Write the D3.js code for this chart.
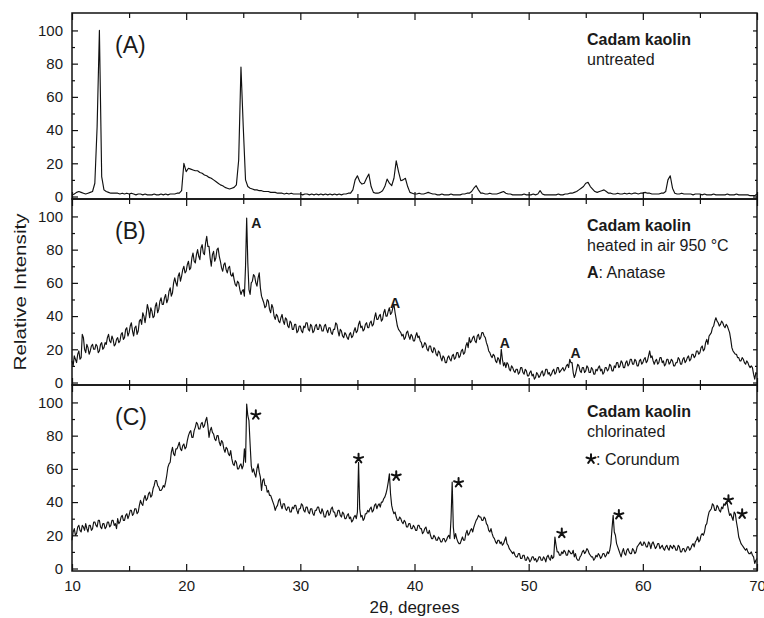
<!DOCTYPE html>
<html>
<head>
<meta charset="utf-8">
<script src="https://cdn.jsdelivr.net/npm/d3@7"></script>
<style>
  body { margin: 0; background: #fff; }
  svg { display: block; font-family: "Liberation Sans", Arial, sans-serif; }
</style>
</head>
<body>
<div id="vis"></div>
<script>
// Frame and margins
const FRAME_WIDTH = 764;
const FRAME_HEIGHT = 618;
const MARGINS = {left: 72, right: 7, top: 13, bottom: 47};
const PANEL_HEIGHT = 186;

// Scan grid (2-theta, degrees): every scan starts at 10 deg
const TWO_THETA_START = 10;
const SCAN_STEPS = [0.2, 0.1, 0.1];

// (A) untreated, one value per 0.2 deg (5 per degree), 10 -> 70
const UNTREATED = [
  1, 1.5, 2.5, 3, 2.5,   2, 1.5, 2, 2.5, 3,   8, 42, 100, 12, 4,   3, 2.5, 2, 2, 2,
  2, 1.5, 2, 1.5, 2,   1.5, 2, 1.5, 1, 1.5,   1.5, 1, 1.5, 1, 1,   1, 1.5, 1, 1, 1.5,
  1, 1.5, 1, 1.5, 1.5,   1.5, 2, 2, 3.5, 20,   15, 17, 16.5, 16, 15.5,   15.5, 14.5, 14, 13, 12.5,
  11.5, 11, 10, 9, 8,   7, 6.5, 5.5, 5, 4.5,   5, 5.5, 7, 22, 78,   42, 10, 6, 5, 4.5,
  4, 4, 3.5, 3.5, 3,   3, 3, 2.5, 2.5, 2.5,   2, 2, 2, 1.5, 2,   1.5, 2, 1.5, 1.5, 1.5,
  1.5, 1, 1.5, 1.5, 1,   1.5, 1, 1.5, 1, 1.5,   1, 1.5, 1, 1.5, 1,   1.5, 1, 1.5, 1, 1.5,
  1.5, 2, 2, 4, 10,   12.5, 9, 7.5, 8, 11,   13.5, 6, 2.5, 2, 2,   2.5, 3.5, 6, 10.5, 8,
  6.5, 11, 21.5, 15, 9.5,   10, 11, 6, 2.5, 2,   1.5, 1.5, 2, 1.5, 1.5,   2, 2.5, 2, 1.5, 1.5,
  1, 1, 1.5, 1, 1,   1, 1.5, 1, 1, 1,   1, 1.5, 1.5, 2, 2,   3, 5, 6.5, 4, 2,
  2, 1.5, 1.5, 2, 1.5,   1.5, 1.5, 2, 2.5, 3,   2, 1.5, 1.5, 1, 1,   1, 1, 1, 1.5, 1,
  1, 1, 1.5, 1, 1.5,   3.5, 1.5, 1, 1, 1,   1, 1, 1, 1.5, 1,   1, 1.5, 1.5, 2, 2,
  2.5, 3, 4, 5, 6,   8, 8.5, 6, 4.5, 3,   2.5, 3, 3.5, 4, 3,   2, 2, 1.5, 1.5, 2,
  1.5, 1.5, 2, 1.5, 2,   1.5, 2, 2, 1.5, 2,   2, 2.5, 2, 2, 1.5,   1.5, 1.5, 1.5, 2, 2,
  3, 10, 12.5, 5, 2,   1.5, 1.5, 2, 1.5, 1.5,   1.5, 1.5, 1, 1.5, 1.5,   1.5, 1, 1.5, 1, 1,
  1, 1.5, 1, 1, 1,   1, 1, 1.5, 1, 1,   1, 1.5, 1, 1, 1,   1, 1, 0.5, 0.5, 0.5,
  1.5
];

// (B) heated in air, one value per 0.1 deg (one row per degree), 10 -> 70
const HEATED = [
  13, 10, 16, 14, 12, 17, 19, 14, 15, 29,
  27, 20, 18, 23, 21, 17, 19, 22, 23, 20,
  20, 23, 22, 18, 19, 23, 24, 20, 21, 24,
  23, 27, 29, 25, 24, 28, 26, 22, 23, 26,
  27, 24, 25, 29, 30, 26, 27, 32, 33, 28,
  30, 34, 36, 31, 28, 33, 34, 29, 31, 37,
  38, 35, 42, 40, 36, 41, 47, 44, 39, 45,
  43, 39, 40, 46, 48, 42, 44, 49, 51, 47,
  47, 51, 53, 48, 50, 55, 57, 52, 54, 60,
  63, 60, 58, 64, 66, 61, 64, 68, 70, 66,
  67, 71, 73, 68, 69, 75, 78, 73, 72, 77,
  80, 76, 74, 81, 83, 78, 77, 84, 88, 82,
  82, 75, 70, 77, 79, 73, 75, 80, 81, 76,
  73, 69, 67, 71, 72, 68, 66, 69, 70, 65,
  64, 66, 62, 59, 58, 61, 60, 56, 53, 55,
  56, 52, 70, 99, 72, 56, 53, 60, 61, 65,
  64, 60, 58, 63, 66, 57, 52, 50, 48, 45,
  46, 50, 49, 44, 42, 47, 45, 40, 38, 41,
  40, 37, 36, 39, 41, 37, 35, 39, 38, 34,
  33, 37, 36, 32, 32, 35, 35, 30, 31, 34,
  34, 31, 30, 34, 33, 36, 36, 32, 31, 35,
  34, 30, 31, 34, 35, 32, 32, 35, 34, 31,
  31, 34, 35, 32, 30, 33, 33, 30, 29, 32,
  32, 36, 35, 31, 28, 32, 31, 28, 27, 30,
  29, 27, 26, 29, 30, 27, 28, 31, 33, 30,
  31, 35, 37, 33, 34, 31, 32, 35, 36, 33,
  33, 36, 37, 34, 35, 39, 42, 38, 38, 40,
  41, 37, 38, 42, 44, 40, 40, 43, 45, 41,
  42, 45, 47, 42, 38, 34, 32, 31, 30, 28,
  29, 26, 27, 30, 31, 28, 26, 29, 28, 25,
  25, 28, 30, 27, 28, 25, 24, 21, 22, 24,
  23, 20, 19, 22, 22, 19, 18, 21, 20, 17,
  16, 19, 18, 15, 13, 16, 15, 12, 12, 15,
  16, 14, 13, 16, 17, 14, 15, 18, 18, 15,
  16, 19, 20, 17, 18, 22, 24, 21, 27, 24,
  25, 27, 28, 25, 24, 28, 29, 26, 27, 30,
  30, 28, 27, 24, 22, 19, 18, 16, 15, 17,
  16, 13, 12, 15, 14, 11, 20, 14, 10, 12,
  9, 12, 11, 8, 7, 10, 9, 7, 6, 8,
  8, 5, 6, 9, 9, 6, 5, 8, 7, 4,
  4, 6, 7, 4, 5, 2, 3, 6, 5, 3,
  4, 6, 7, 4, 5, 8, 8, 5, 6, 4,
  5, 7, 8, 5, 6, 9, 9, 6, 7, 8,
  9, 7, 8, 10, 11, 9, 14, 12, 12, 6,
  3, 5, 8, 11, 10, 7, 6, 9, 9, 6,
  7, 10, 9, 6, 6, 9, 8, 5, 5, 8,
  7, 9, 10, 7, 8, 5, 6, 9, 9, 7,
  8, 11, 10, 7, 7, 10, 9, 12, 12, 9,
  10, 13, 12, 9, 9, 12, 13, 10, 11, 14,
  14, 11, 11, 14, 13, 10, 10, 13, 14, 11,
  12, 14, 15, 12, 13, 16, 19, 15, 16, 13,
  11, 13, 14, 11, 12, 15, 15, 12, 13, 10,
  11, 14, 14, 11, 12, 14, 13, 10, 10, 12,
  12, 15, 14, 11, 11, 14, 15, 12, 13, 15,
  16, 13, 14, 17, 17, 15, 16, 19, 19, 17,
  18, 21, 22, 19, 20, 24, 26, 23, 28, 29,
  30, 33, 34, 37, 39, 37, 36, 34, 35, 37,
  36, 34, 33, 35, 34, 32, 30, 26, 21, 19,
  18, 17, 17, 15, 15, 13, 13, 15, 14, 12,
  11, 13, 12, 10, 9, 10, 9, 5, 2, 6,
  5
];

// (C) chlorinated, one value per 0.1 deg (one row per degree), 10 -> 70
const CHLORINATED = [
  17, 22, 24, 20, 21, 25, 26, 23, 22, 26,
  25, 23, 27, 24, 22, 26, 26, 23, 24, 28,
  28, 26, 25, 29, 29, 25, 24, 27, 27, 24,
  25, 28, 28, 25, 26, 29, 29, 26, 27, 24,
  30, 27, 28, 31, 32, 29, 29, 32, 33, 30,
  32, 35, 35, 32, 33, 36, 36, 33, 34, 38,
  41, 39, 38, 42, 44, 41, 42, 45, 46, 43,
  44, 48, 50, 53, 53, 50, 49, 47, 47, 48,
  50, 49, 52, 56, 61, 63, 64, 70, 73, 69,
  68, 72, 72, 74, 76, 72, 71, 74, 75, 72,
  73, 77, 80, 82, 83, 79, 79, 83, 85, 88,
  87, 84, 84, 87, 88, 85, 86, 89, 91, 86,
  79, 83, 85, 82, 81, 78, 77, 80, 80, 76,
  74, 77, 76, 72, 70, 73, 72, 69, 68, 71,
  66, 63, 62, 65, 64, 60, 60, 62, 63, 60,
  62, 72, 64, 99, 92, 89, 75, 62, 58, 60,
  57, 55, 60, 63, 58, 55, 47, 53, 54, 50,
  50, 46, 47, 44, 44, 42, 40, 38, 35, 37,
  38, 41, 42, 38, 36, 39, 39, 36, 35, 37,
  37, 34, 34, 37, 36, 38, 38, 35, 33, 36,
  36, 39, 38, 35, 34, 37, 37, 34, 33, 36,
  36, 33, 32, 35, 35, 37, 37, 34, 33, 36,
  34, 31, 31, 34, 35, 32, 33, 36, 37, 34,
  34, 31, 32, 35, 35, 32, 31, 34, 33, 30,
  30, 32, 33, 30, 31, 28, 29, 31, 32, 30,
  34, 64, 36, 31, 32, 29, 30, 33, 33, 35,
  34, 36, 37, 34, 35, 38, 39, 36, 38, 39,
  37, 40, 40, 42, 43, 45, 48, 52, 57, 45,
  38, 35, 33, 34, 31, 29, 29, 31, 30, 28,
  27, 29, 28, 25, 25, 27, 27, 24, 24, 26,
  25, 23, 23, 26, 26, 24, 24, 21, 22, 24,
  25, 22, 21, 23, 20, 18, 18, 20, 19, 17,
  17, 19, 18, 16, 16, 18, 18, 16, 17, 19,
  20, 18, 30, 52, 25, 18, 21, 18, 16, 15,
  15, 17, 19, 17, 17, 21, 23, 20, 21, 23,
  24, 22, 25, 27, 29, 30, 32, 31, 31, 29,
  29, 31, 30, 27, 26, 23, 22, 24, 21, 19,
  18, 16, 15, 17, 17, 15, 16, 14, 15, 17,
  19, 15, 14, 12, 11, 10, 9, 10, 8, 7,
  7, 9, 9, 6, 6, 8, 8, 5, 5, 7,
  6, 4, 5, 7, 7, 5, 6, 4, 5, 7,
  7, 5, 5, 7, 6, 4, 7, 8, 6, 5,
  8, 6, 7, 19, 14, 10, 10, 8, 8, 10,
  9, 11, 10, 8, 8, 11, 10, 9, 9, 11,
  7, 9, 6, 5, 5, 7, 8, 10, 11, 9,
  10, 12, 11, 9, 8, 7, 7, 5, 6, 8,
  7, 9, 8, 6, 7, 9, 9, 7, 8, 10,
  9, 11, 15, 24, 32, 22, 20, 15, 13, 11,
  9, 7, 10, 12, 9, 8, 11, 12, 10, 9,
  9, 12, 11, 9, 10, 13, 14, 15, 16, 14,
  14, 16, 15, 13, 13, 16, 15, 12, 15, 16,
  14, 12, 13, 15, 15, 12, 13, 14, 12, 11,
  13, 14, 12, 11, 14, 13, 12, 14, 13, 11,
  11, 14, 13, 10, 10, 12, 12, 10, 11, 13,
  13, 11, 12, 14, 15, 13, 16, 17, 19, 16,
  17, 20, 21, 20, 22, 26, 27, 31, 34, 35,
  36, 39, 38, 35, 35, 38, 37, 35, 34, 37,
  36, 39, 38, 40, 39, 35, 32, 33, 31, 29,
  34, 33, 28, 24, 19, 17, 15, 14, 13, 12,
  11, 12, 10, 9, 9, 10, 8, 7, 3, 5,
  6
];

const INTENSITIES = [UNTREATED, HEATED, CHLORINATED];
const PANEL_LETTERS = ["(A)", "(B)", "(C)"];
const SAMPLE_NAMES = ["Cadam kaolin", "Cadam kaolin", "Cadam kaolin"];
const TREATMENTS = ["untreated", "heated in air 950 \u00B0C", "chlorinated"];

// Peak markers: anatase "A" in panel B, corundum stars in panel C
const ANATASE_X = [26.15, 38.3, 47.9, 54.1];
const ANATASE_Y = [93, 45, 20.7, 14.7];
const CORUNDUM_X = [26.1, 35.1, 38.4, 43.86, 52.9, 57.9, 67.5, 68.7];
const CORUNDUM_Y = [92.5, 66.2, 55.7, 51.7, 21.2, 32.4, 41.3, 32.8];

// Ticks
const X_MAJOR = [10, 20, 30, 40, 50, 60, 70];
const X_MINOR = [15, 25, 35, 45, 55, 65];
const Y_MAJOR = [0, 20, 40, 60, 80, 100];
const Y_MINOR = [10, 30, 50, 70, 90];
const Y_DOMAIN = [-1.5, 110.5];

const SVG = d3.select("#vis")
  .append("svg")
    .attr("width", FRAME_WIDTH)
    .attr("height", FRAME_HEIGHT);

const X_SCALE = d3.scaleLinear()
  .domain([10, 70])
  .range([MARGINS.left, FRAME_WIDTH - MARGINS.right]);

// five armed asterisk like the one in the figure
const STAR = {
  draw(context, size) {
    const r = Math.sqrt(size) / 2;
    for (let k = 0; k < 5; k++) {
      const a = -Math.PI / 2 + k * 2 * Math.PI / 5;
      context.moveTo(0, 0);
      context.lineTo(r * Math.cos(a), r * Math.sin(a));
    }
  }
};
const starPath = d3.symbol().type(STAR).size(90)();

function styleAxis(g) {
  g.select(".domain").remove();
  g.selectAll(".tick line").attr("stroke", "#111").attr("stroke-width", 1.2);
  g.selectAll(".tick text").attr("font-size", 15).attr("fill", "#1a1a1a")
    .attr("font-family", "'Liberation Sans', Arial, sans-serif");
}

INTENSITIES.forEach((values, p) => {
  const top = MARGINS.top + p * PANEL_HEIGHT;
  const bottom = top + PANEL_HEIGHT;
  const left = MARGINS.left;
  const right = FRAME_WIDTH - MARGINS.right;
  const step = SCAN_STEPS[p];

  const Y_SCALE = d3.scaleLinear().domain(Y_DOMAIN).range([bottom, top]);
  const panel = SVG.append("g").attr("class", "panel");

  // the scan
  const line = d3.line()
    .x((d, i) => X_SCALE(TWO_THETA_START + i * step))
    .y((d) => Y_SCALE(d));

  panel.append("path")
    .datum(values)
    .attr("d", line)
    .attr("fill", "none")
    .attr("stroke", "#111")
    .attr("stroke-width", 1.15)
    .attr("stroke-linejoin", "round");

  // y ticks, left (labelled) and right
  panel.append("g").attr("transform", "translate(" + left + ",0)")
    .call(d3.axisLeft(Y_SCALE).tickValues(Y_MAJOR).tickSize(-6).tickPadding(9))
    .call(styleAxis);
  panel.append("g").attr("transform", "translate(" + left + ",0)")
    .call(d3.axisLeft(Y_SCALE).tickValues(Y_MINOR).tickSize(-3).tickFormat(""))
    .call(styleAxis);
  panel.append("g").attr("transform", "translate(" + right + ",0)")
    .call(d3.axisRight(Y_SCALE).tickValues(Y_MAJOR).tickSize(-4).tickFormat(""))
    .call(styleAxis);
  panel.append("g").attr("transform", "translate(" + right + ",0)")
    .call(d3.axisRight(Y_SCALE).tickValues(Y_MINOR).tickSize(-2).tickFormat(""))
    .call(styleAxis);

  // x ticks, top and bottom, pointing in
  panel.append("g").attr("transform", "translate(0," + top + ")")
    .call(d3.axisTop(X_SCALE).tickValues(X_MAJOR).tickSize(-7).tickFormat(""))
    .call(styleAxis);
  panel.append("g").attr("transform", "translate(0," + top + ")")
    .call(d3.axisTop(X_SCALE).tickValues(X_MINOR).tickSize(-5).tickFormat(""))
    .call(styleAxis);
  const bottomAxis = d3.axisBottom(X_SCALE).tickValues(X_MAJOR).tickSize(-7).tickPadding(9);
  if (p < INTENSITIES.length - 1) bottomAxis.tickFormat("");
  panel.append("g").attr("transform", "translate(0," + bottom + ")")
    .call(bottomAxis)
    .call(styleAxis);
  panel.append("g").attr("transform", "translate(0," + bottom + ")")
    .call(d3.axisBottom(X_SCALE).tickValues(X_MINOR).tickSize(-5).tickFormat(""))
    .call(styleAxis);

  // frame
  panel.append("rect")
    .attr("x", left).attr("y", top)
    .attr("width", right - left).attr("height", PANEL_HEIGHT)
    .attr("fill", "none").attr("stroke", "#111").attr("stroke-width", 1.5);

  // panel letter
  panel.append("text")
    .attr("x", 115).attr("y", top + 40)
    .attr("font-size", 23).attr("fill", "#1a1a1a")
    .text(PANEL_LETTERS[p]);

  // legend text
  panel.append("text")
    .attr("x", 587).attr("y", top + 31.5)
    .attr("font-size", 16).attr("font-weight", "bold").attr("fill", "#1a1a1a")
    .text(SAMPLE_NAMES[p]);
  panel.append("text")
    .attr("x", 587).attr("y", top + 51.5)
    .attr("font-size", 16).attr("fill", "#1a1a1a")
    .text(TREATMENTS[p]);

  if (p === 1) {
    const key = panel.append("text")
      .attr("x", 587).attr("y", top + 78.5)
      .attr("font-size", 16).attr("fill", "#1a1a1a");
    key.append("tspan").attr("font-weight", "bold").text("A");
    key.append("tspan").text(": Anatase");

    panel.selectAll(".anatase")
      .data(ANATASE_X)
      .enter()
      .append("text")
        .attr("class", "anatase")
        .attr("x", (d) => X_SCALE(d))
        .attr("y", (d, i) => Y_SCALE(ANATASE_Y[i]))
        .attr("text-anchor", "middle")
        .attr("font-size", 14).attr("font-weight", "bold").attr("fill", "#1a1a1a")
        .text("A");
  }

  if (p === 2) {
    panel.append("path")
      .attr("d", starPath)
      .attr("transform", "translate(591," + (top + 74) + ")")
      .attr("fill", "none").attr("stroke", "#111")
      .attr("stroke-width", 2).attr("stroke-linecap", "round");
    panel.append("text")
      .attr("x", 596).attr("y", top + 79.5)
      .attr("font-size", 16).attr("fill", "#1a1a1a")
      .text(": Corundum");

    panel.selectAll(".corundum")
      .data(CORUNDUM_X)
      .enter()
      .append("path")
        .attr("class", "corundum")
        .attr("d", starPath)
        .attr("transform", (d, i) => "translate(" + X_SCALE(d) + "," + Y_SCALE(CORUNDUM_Y[i]) + ")")
        .attr("fill", "none").attr("stroke", "#111")
        .attr("stroke-width", 2).attr("stroke-linecap", "round");
  }
});

// axis titles
SVG.append("text")
  .attr("transform", "translate(26," + (MARGINS.top + 1.5 * PANEL_HEIGHT) + ") rotate(-90)")
  .attr("text-anchor", "middle")
  .attr("font-size", 17).attr("fill", "#1a1a1a")
  .attr("textLength", 157).attr("lengthAdjust", "spacingAndGlyphs")
  .text("Relative Intensity");

SVG.append("text")
  .attr("x", (MARGINS.left + FRAME_WIDTH - MARGINS.right) / 2)
  .attr("y", 613)
  .attr("text-anchor", "middle")
  .attr("font-size", 17).attr("fill", "#1a1a1a")
  .text("2\u03B8, degrees");
</script>
</body>
</html>
